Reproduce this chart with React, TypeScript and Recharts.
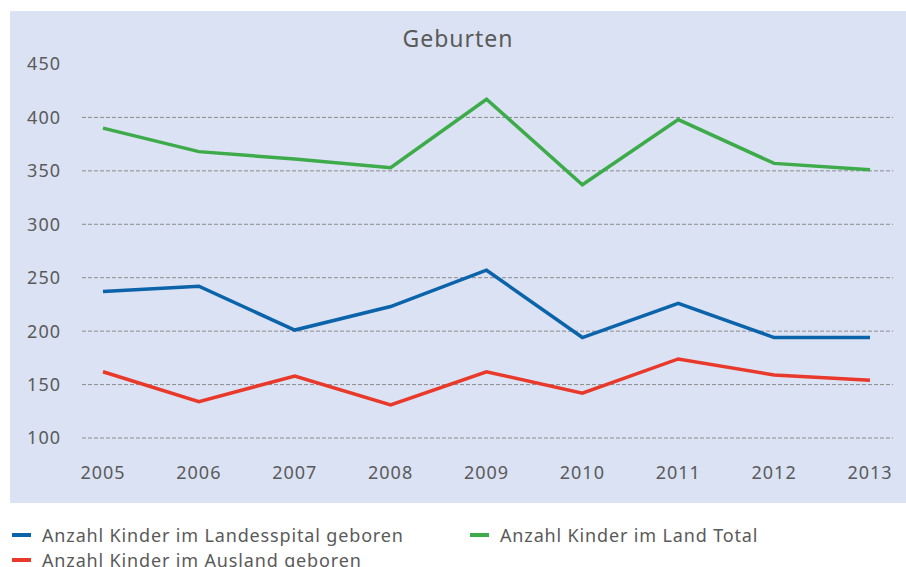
import { LineChart, Line, XAxis, YAxis, CartesianGrid } from 'recharts';

// Geburten 2005–2013
const years = ['2005', '2006', '2007', '2008', '2009', '2010', '2011', '2012', '2013'];
const landesspital = [237, 242, 201, 223, 257, 194, 226, 194, 194];
const ausland = [162, 134, 158, 131, 162, 142, 174, 159, 154];
const landTotal = [390, 368, 361, 353, 417, 337, 398, 357, 351];
const yTicks = [100, 150, 200, 250, 300, 350, 400, 450];
const gridValues = [100, 150, 200, 250, 300, 350, 400];

const series = [
    { key: 'landesspital', name: 'Anzahl Kinder im Landesspital geboren', color: '#0b63aa' },
    { key: 'landTotal', name: 'Anzahl Kinder im Land Total', color: '#3dab4a' },
    { key: 'ausland', name: 'Anzahl Kinder im Ausland geboren', color: '#e8392b' },
];

const data = years.map((year, i) => ({
    year,
    landesspital: landesspital[i],
    ausland: ausland[i],
    landTotal: landTotal[i],
}));

const FONT = '"Noto Sans", "Open Sans", sans-serif';
const TEXT = '#5a5a5a';

// legend slots: two columns, wrapping
const legendPos = [
    { left: 12, top: 535 },
    { left: 470, top: 535 },
    { left: 12, top: 560 },
];

const tickStyle = { fill: TEXT, fontSize: 18, fontFamily: FONT, letterSpacing: 1 };

export default function App() {
    return (
        <div style={{ position: 'absolute', left: 0, top: 0, width: 906, height: 567, background: '#fff', overflow: 'hidden', fontFamily: FONT }}>
            <div style={{ position: 'absolute', left: 10, top: 11, width: 896, height: 492, background: '#dbe2f3' }} />
            <div style={{ position: 'absolute', left: 0, top: 24, width: 916, textAlign: 'center', fontSize: 23, letterSpacing: 1, color: TEXT, lineHeight: '28px' }}>
                Geburten
            </div>

            <div style={{ position: 'absolute', left: 0, top: 0 }}>
                <LineChart
                    width={906}
                    height={567}
                    data={data}
                    margin={{ top: 64, right: 13, left: 0, bottom: 99 }}
                >
                    <CartesianGrid
                        vertical={false}
                        horizontalValues={gridValues}
                        stroke="#8c8c8c"
                        strokeDasharray="4 2"
                    />
                    <XAxis
                        dataKey="year"
                        axisLine={false}
                        tickLine={false}
                        tickSize={0}
                        tickMargin={28}
                        height={30}
                        padding={{ left: 21, right: 23 }}
                        tick={tickStyle}
                    />
                    <YAxis
                        domain={[100, 450]}
                        ticks={yTicks}
                        axisLine={false}
                        tickLine={false}
                        tickSize={0}
                        tickMargin={21}
                        width={82}
                        tick={tickStyle}
                    />
                    {series.map((s) => (
                        <Line
                            key={s.key}
                            dataKey={s.key}
                            name={s.name}
                            stroke={s.color}
                            strokeWidth={3.5}
                            dot={false}
                            activeDot={false}
                            isAnimationActive={false}
                        />
                    ))}
                </LineChart>
            </div>

            {series.map((s, i) => (
                <div
                    key={s.key}
                    style={{ position: 'absolute', left: legendPos[i].left, top: legendPos[i].top - 12, height: 24, display: 'flex', alignItems: 'center', fontSize: 18, letterSpacing: 0.85, color: TEXT, whiteSpace: 'nowrap' }}
                >
                    <span style={{ display: 'inline-block', width: 19, height: 4, background: s.color, marginRight: 11 }} />
                    {s.name}
                </div>
            ))}
        </div>
    );
}
